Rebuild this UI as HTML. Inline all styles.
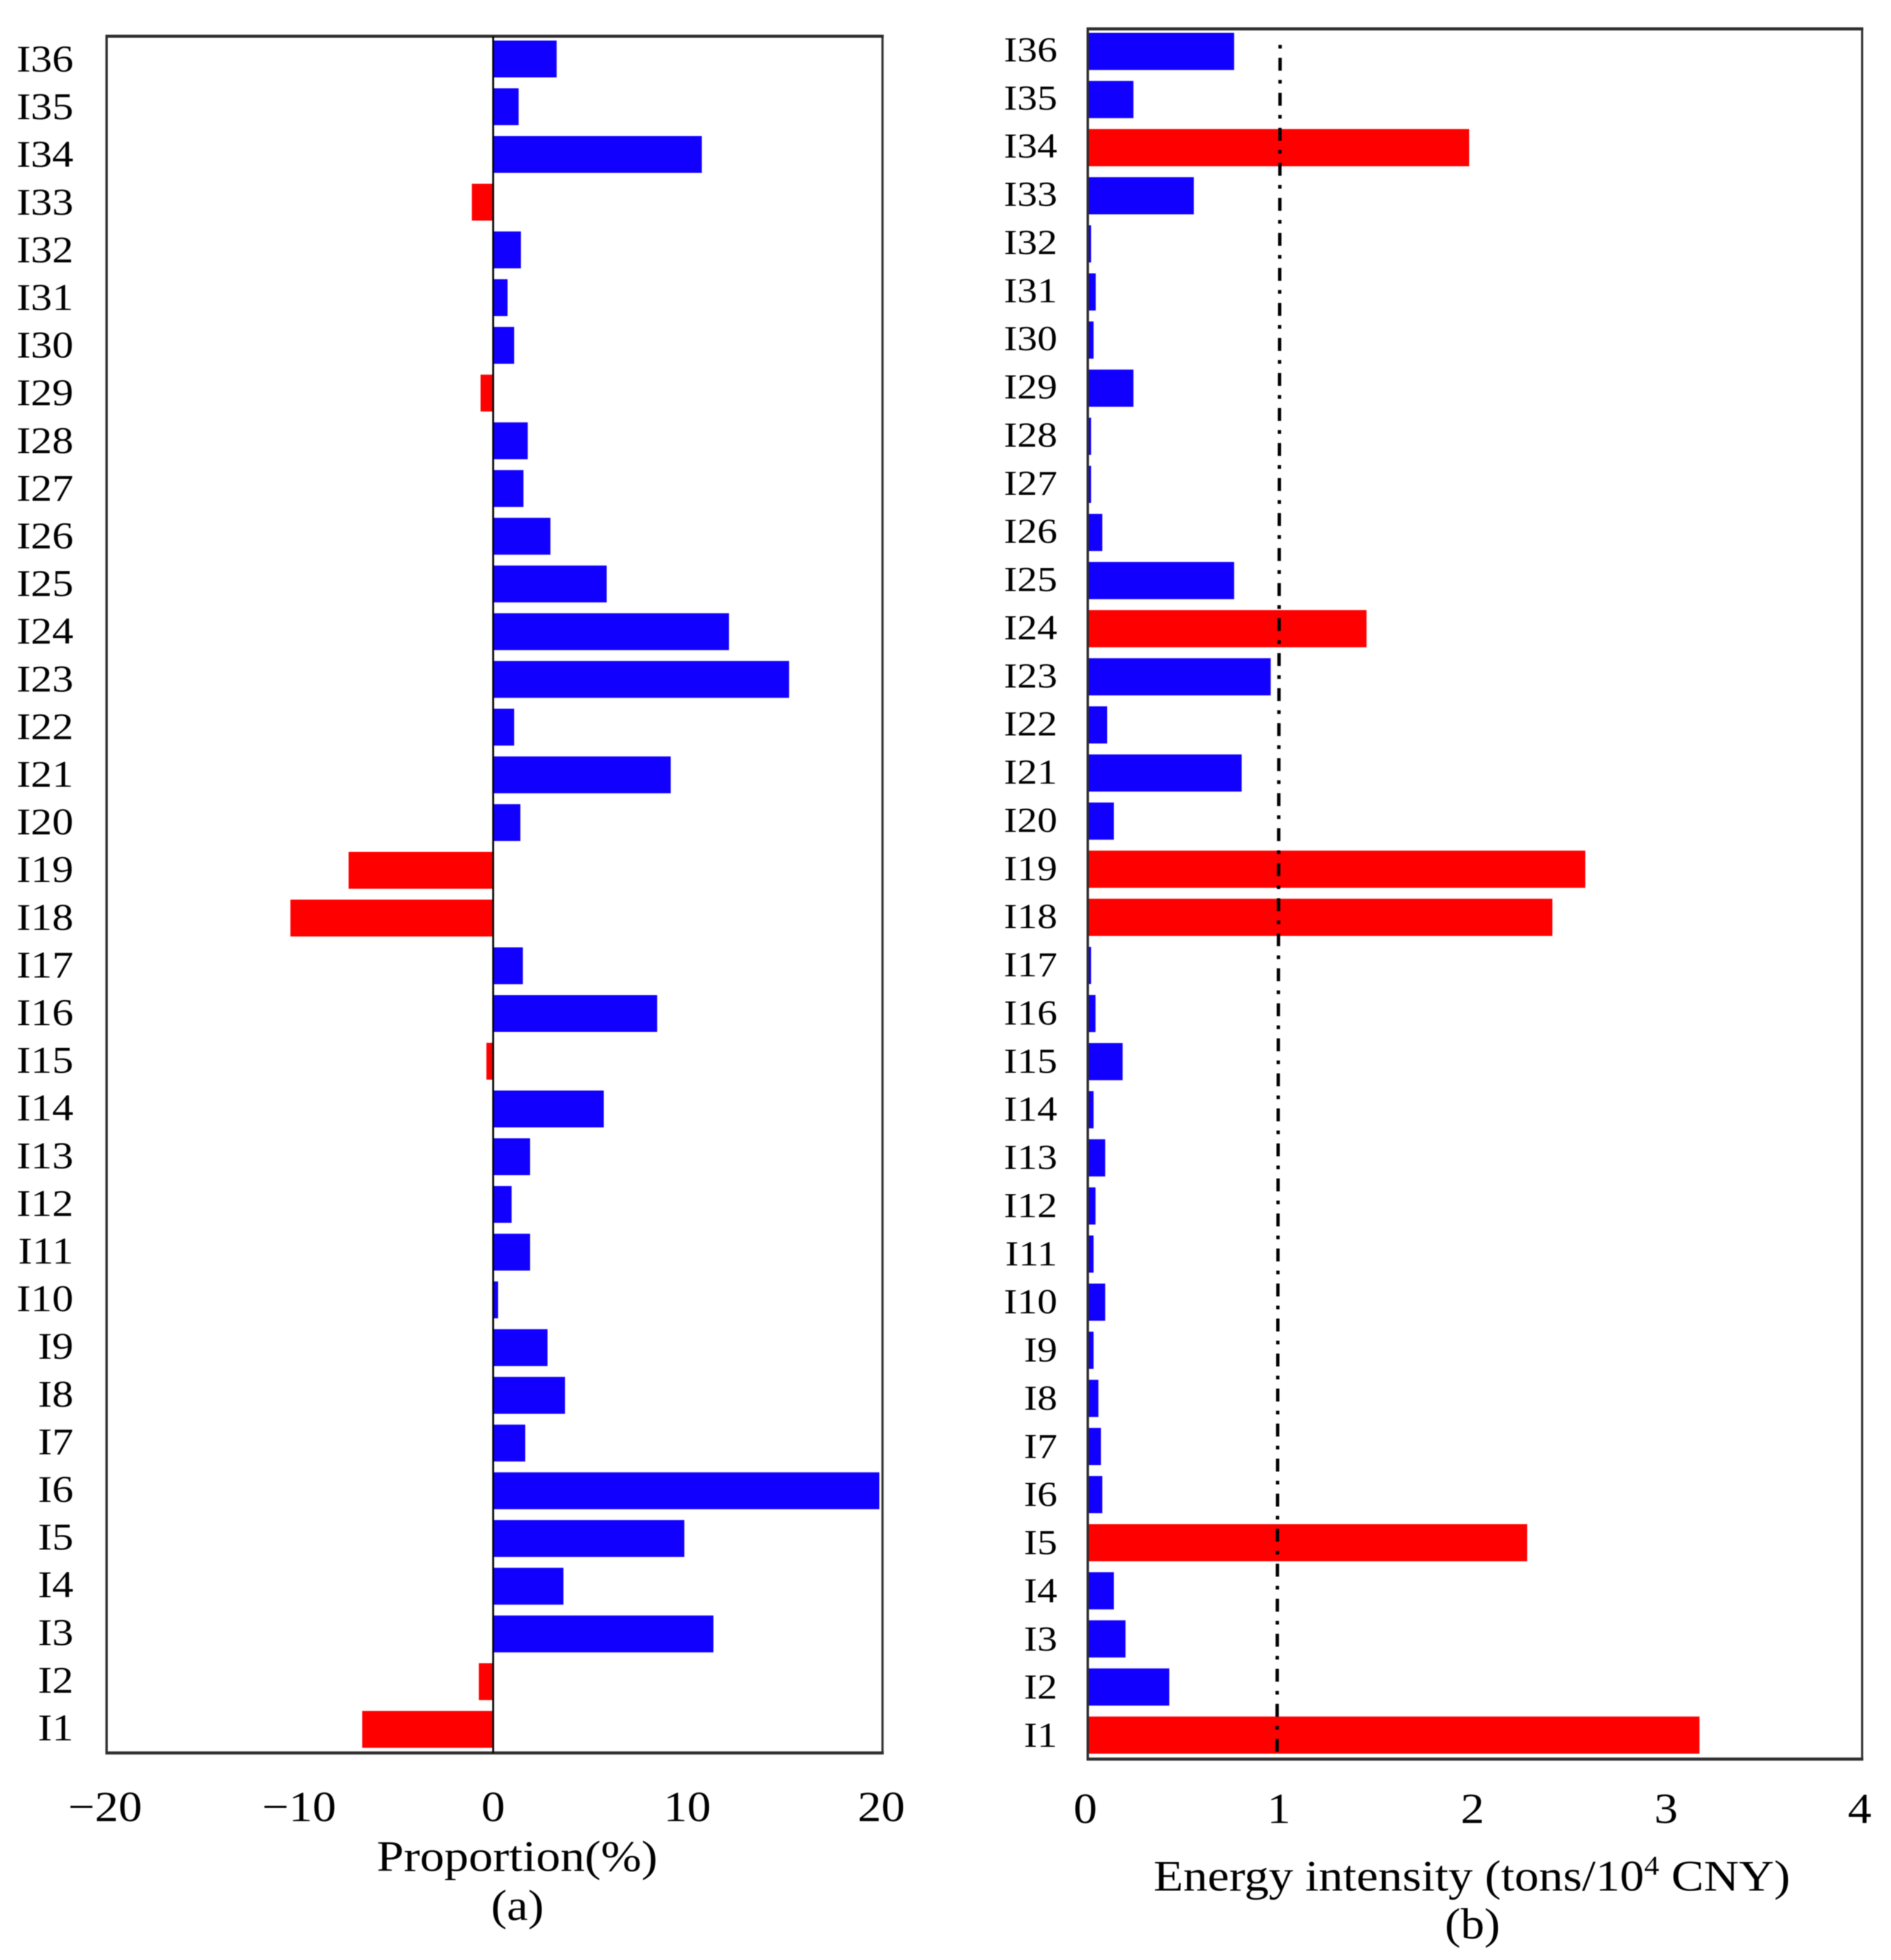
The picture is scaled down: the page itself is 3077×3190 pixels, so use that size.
<!DOCTYPE html>
<html lang="en">
<head>
<meta charset="utf-8">
<title>Proportion and energy intensity by industry</title>
<style>
html,body{margin:0;padding:0;background:#fff;}
svg{display:block;filter:blur(0.7px);}
text{font-family:"Liberation Serif",serif;fill:#000;}
</style>
</head>
<body>
<svg id="chart" xmlns="http://www.w3.org/2000/svg" width="3077" height="3190" viewBox="0 0 3077 3190">
  <rect x="0" y="0" width="3077" height="3190" fill="#fff"/>
  <g id="panelA"></g>
  <g id="panelB"></g>
  <text x="613" y="3045" font-size="71" textLength="457" lengthAdjust="spacingAndGlyphs">Proportion(%)</text>
  <text x="799" y="3125" font-size="71" textLength="86" lengthAdjust="spacingAndGlyphs">(a)</text>
  <text x="1877" y="3077" font-size="71" textLength="1036" lengthAdjust="spacingAndGlyphs">Energy intensity (tons/10<tspan font-size="44" dy="-26">4</tspan><tspan dy="26"> CNY)</tspan></text>
  <text x="2351" y="3155" font-size="71" textLength="90" lengthAdjust="spacingAndGlyphs">(b)</text>
</svg>
<script>
const categories = ['I36','I35','I34','I33','I32','I31','I30','I29','I28','I27','I26','I25','I24','I23','I22','I21','I20','I19','I18','I17','I16','I15','I14','I13','I12','I11','I10','I9','I8','I7','I6','I5','I4','I3','I2','I1'];
const proportionValues = [3.27,1.31,10.75,-1.1,1.43,0.74,1.08,-0.65,1.78,1.56,2.95,5.85,12.15,15.25,1.08,9.15,1.4,-7.45,-10.45,1.53,8.45,-0.35,5.7,1.9,0.95,1.9,0.25,2.8,3.7,1.65,19.9,9.85,3.62,11.35,-0.74,-6.75];
const intensityValues = [0.756,0.236,1.97,0.548,0.017,0.041,0.03,0.236,0.017,0.017,0.075,0.756,1.44,0.945,0.1,0.795,0.135,2.57,2.40,0.017,0.04,0.18,0.03,0.09,0.04,0.03,0.09,0.03,0.055,0.068,0.075,2.27,0.135,0.195,0.421,3.16];
const proportionTicks = [-20,-10,0,10,20];
const intensityTicks = [0,1,2,3,4];
const intensityThreshold = 1;

const NS = 'http://www.w3.org/2000/svg';
const BLUE = '#1200ff';
const RED = '#ff0000';
const FRAME = '#2e2e2e';

function make(parent, tag, attrs) {
  const el = document.createElementNS(NS, tag);
  for (const k in attrs) el.setAttribute(k, attrs[k]);
  parent.appendChild(el);
  return el;
}
function linear(d0, d1, r0, r1) {
  return function (v) { return r0 + (v - d0) * (r1 - r0) / (d1 - d0); };
}
function placeText(el, x, y, sx) {
  el.setAttribute('transform', 'translate(' + x + ',' + y + ') scale(' + sx + ',1)');
}
function frame(parent, l, t, r, b) {
  const top = make(parent, 'line', {x1: l - 2, y1: t, x2: r + 2, y2: t, stroke: FRAME, 'stroke-width': 5});
  
  
  const bottom = make(parent, 'line', {x1: l - 2, y1: b, x2: r + 2, y2: b, stroke: FRAME, 'stroke-width': 5});
  
  
  const left = make(parent, 'line', {x1: l, y1: t, x2: l, y2: b, stroke: FRAME, 'stroke-width': 4});
  
  
  const right = make(parent, 'line', {x1: r, y1: t, x2: r, y2: b, stroke: FRAME, 'stroke-width': 3.5});
  
  
}

/* Panel (a) */
(function () {
  const g = document.getElementById('panelA');
  const x = linear(-20, 20, 171, 1434);
  const y = linear(0, categories.length - 1, 96, 2814.7);
  const labelY = linear(0, categories.length - 1, 116.5, 2832.5);
  const h = 60;
  proportionValues.forEach(function (v, i) {
    const x0 = Math.min(x(0), x(v));
    const bar = make(g, 'rect', {x: x0, y: y(i) - h / 2, width: Math.abs(x(v) - x(0)), height: h, fill: v < 0 ? RED : BLUE});
    
    
  });
  frame(g, 173.5, 59, 1436, 2853);
  const zero = make(g, 'line', {x1: x(0), y1: 59, x2: x(0), y2: 2853, stroke: '#000', 'stroke-width': 3});
  
  
  categories.forEach(function (c, i) {
    const t = make(g, 'text', {'font-size': 61, 'text-anchor': 'end'});
    
    
    t.textContent = c;
    placeText(t, 119.5, labelY(i), 1.14);
  });
  proportionTicks.forEach(function (v) {
    const t = make(g, 'text', {'font-size': 70, 'text-anchor': 'middle'});
    
    
    t.textContent = v < 0 ? '\u2212' + Math.abs(v) : String(v);
    placeText(t, x(v), 2964, 1.1);
  });
})();

/* Panel (b) */
(function () {
  const g = document.getElementById('panelB');
  const x = linear(0, 4, 1770, 3030);
  const y = linear(0, categories.length - 1, 83.7, 2824);
  const labelY = linear(0, categories.length - 1, 100, 2843);
  const h = 60.5;
  intensityValues.forEach(function (v, i) {
    const bar = make(g, 'rect', {x: x(0), y: y(i) - h / 2, width: x(v) - x(0), height: h, fill: v > intensityThreshold ? RED : BLUE});
    
    
  });
  frame(g, x(0), 47, x(4), 2863);
  const ref = make(g, 'line', {x1: x(intensityThreshold) - 2, y1: 73, x2: x(intensityThreshold) - 7, y2: 2855, stroke: '#000', 'stroke-width': 5.5, 'stroke-dasharray': '6 15 21 15'});
  
  
  categories.forEach(function (c, i) {
    const t = make(g, 'text', {'font-size': 57, 'text-anchor': 'end'});
    
    
    t.textContent = c;
    placeText(t, 1720.5, labelY(i), 1.147);
  });
  intensityTicks.forEach(function (v) {
    const t = make(g, 'text', {'font-size': 70, 'text-anchor': 'middle'});
    
    
    t.textContent = String(v);
    placeText(t, x(v) - 4, 2967, 1.1);
  });
})();
</script>
</body>
</html>
